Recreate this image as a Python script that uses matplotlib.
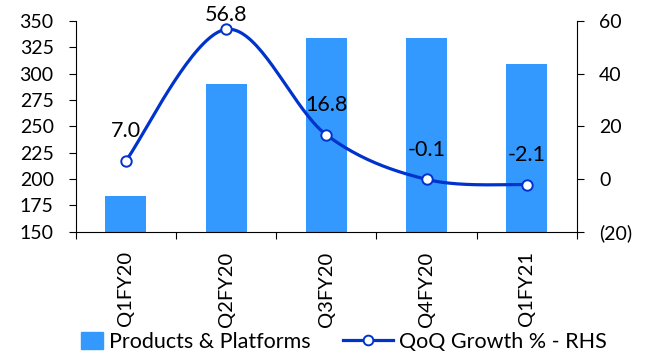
import numpy as np
import matplotlib.pyplot as plt
from matplotlib.lines import Line2D
from matplotlib.patches import Patch, Rectangle
from matplotlib.legend_handler import HandlerPatch

plt.rcParams['font.family'] = ['Lato', 'DejaVu Sans']

quarters = ["Q1FY20", "Q2FY20", "Q3FY20", "Q4FY20", "Q1FY21"]
revenue = [184, 290, 334, 334, 309]
growth = [7.0, 56.8, 16.8, -0.1, -2.1]
growth_labels = ["7.0", "56.8", "16.8", "-0.1", "-2.1"]

bar_color = "#3399FF"
line_color = "#0033CC"


def smooth(xs, ys, n=40):
    # Catmull-Rom style smoothing, close to Excel's smoothed line
    xs = np.asarray(xs, float)
    ys = np.asarray(ys, float)
    px = np.concatenate([[xs[0]], xs, [xs[-1]]])
    py = np.concatenate([[ys[0]], ys, [ys[-1]]])
    out_x, out_y = [], []
    t = np.linspace(0, 1, n)
    for i in range(1, len(px) - 2):
        p0, p1, p2, p3 = [np.array([px[j], py[j]]) for j in range(i - 1, i + 3)]
        c1 = p1 + (p2 - p0) / 6
        c2 = p2 - (p3 - p1) / 6
        b = ((1 - t) ** 3)[:, None] * p1 + (3 * (1 - t) ** 2 * t)[:, None] * c1 \
            + (3 * (1 - t) * t ** 2)[:, None] * c2 + (t ** 3)[:, None] * p2
        out_x.extend(b[:, 0])
        out_y.extend(b[:, 1])
    return out_x, out_y


def small_box(legend, orig_handle, xdescent, ydescent, width, height, fontsize):
    # narrow square swatch, right-aligned in the handle box
    return Rectangle((-xdescent + width * 0.55, -ydescent - height * 0.1),
                     width * 0.45, height * 1.15)


fig = plt.figure(figsize=(6.54, 3.54), dpi=100)
ax = fig.add_axes([0.116, 0.345, 0.766, 0.596])
x = np.arange(len(quarters))

ax.bar(x, revenue, width=0.41, color=bar_color, zorder=2)
ax.set_xlim(-0.5, len(quarters) - 0.5)
ax.set_ylim(150, 350)
ax.set_yticks(range(150, 351, 25))
ax.set_xticks(np.arange(-0.5, len(quarters), 1.0))
ax.set_xticklabels([])
ax.set_xticks(x, minor=True)
ax.set_xticklabels(quarters, minor=True, rotation=90, fontsize=14.5)
ax.tick_params(axis='x', which='minor', length=0, pad=14)
ax.tick_params(axis='x', which='major', length=5, direction='out')
ax.tick_params(axis='y', labelsize=14, length=5, direction='out', pad=11)
for s in ['top', 'right']:
    ax.spines[s].set_visible(False)

ax2 = ax.twinx()
sx, sy = smooth(x, growth)
ax2.plot(sx, sy, color=line_color, lw=2.3, zorder=3)
ax2.plot(x, growth, 'o', mfc='white', mec=line_color, ms=7.5, mew=1.4, zorder=4)
ax2.set_ylim(-20, 60)
ax2.set_yticks(range(-20, 61, 20))
ax2.set_yticklabels(["(20)", "0", "20", "40", "60"])
ax2.tick_params(axis='y', labelsize=14, length=5, direction='out', pad=11)
for s in ['top', 'left', 'bottom']:
    ax2.spines[s].set_visible(False)

label_offsets = [17, 6, 17, 17, 17]
for xi, yi, lab, off in zip(x, growth, growth_labels, label_offsets):
    ax2.annotate(lab, (xi, yi), xytext=(0, off), textcoords='offset points',
                 ha='center', va='baseline', fontsize=15.5, color='black',
                 zorder=5, annotation_clip=False)

handles = [Patch(color=bar_color, label="Products & Platforms"),
           Line2D([0], [0], color=line_color, lw=2.3, marker='o', mfc='white',
                  mec=line_color, ms=7, mew=1.4, label="QoQ Growth % - RHS")]
fig.legend(handles=handles, loc='center left', bbox_to_anchor=(0.065, 0.035), ncol=2,
           frameon=False, fontsize=15.5, handlelength=2.3, columnspacing=1.5,
           handletextpad=0.3, borderpad=0,
           handler_map={Patch: HandlerPatch(patch_func=small_box)})

fig.savefig("out.png", dpi=100)
